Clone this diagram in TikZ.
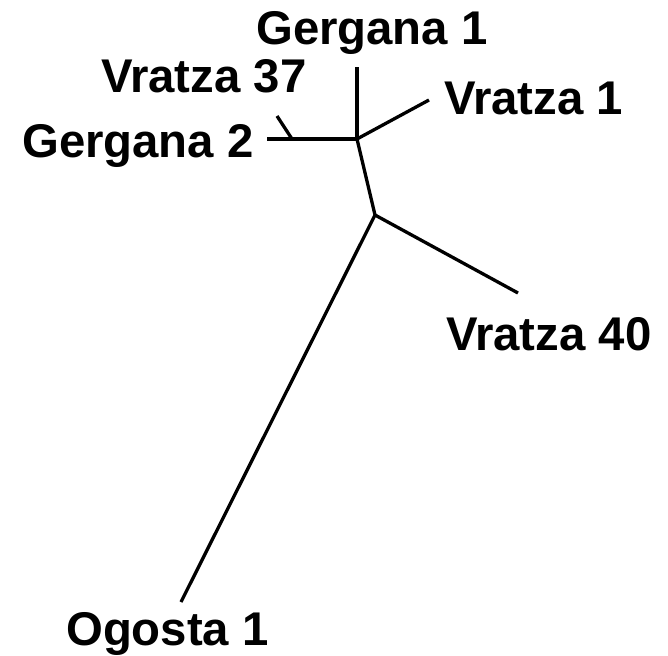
\documentclass[tikz,border=0pt]{standalone}
\usepackage{fontspec}
\setmainfont{Liberation Sans}
\begin{document}
\begin{tikzpicture}[x=1bp,y=-1bp,
  branch/.style={line width=3.3bp, line cap=butt},
  lbl/.style={anchor=base west, inner sep=0pt, font=\fontsize{47.5}{52}\selectfont\bfseries}]
\useasboundingbox (0,0) rectangle (668,656);
% junctions and tips
\coordinate (A) at (357,139);
\coordinate (B) at (375,215);
\coordinate (g1) at (357,67);
\coordinate (v1) at (429,100);
\coordinate (g2) at (267,139);
\coordinate (v37a) at (292,139);
\coordinate (v37) at (277,116);
\coordinate (v40) at (518,293);
\coordinate (og) at (181,602);
% branches
\draw[branch] (A) -- (g1);
\draw[branch] (A) -- (v1);
\draw[branch] (A) -- (g2);
\draw[branch] (v37a) -- (v37);
\draw[branch] (A) -- (B);
\draw[branch] (B) -- (v40);
\draw[branch] (B) -- (og);
% labels
\node[lbl] (tg1) at (256,45) {Gergana 1};
\node[lbl] (tv37) at (101,93) {Vratza 37};
\node[lbl] (tg2) at (22,157) {Gergana 2};
\node[lbl] (tv1) at (444,115) {Vratza 1};
\node[lbl] (tv40) at (446,350) {Vratza 40};
\node[lbl] (tog) at (66,645) {Ogosta 1};
\end{tikzpicture}
\end{document}
